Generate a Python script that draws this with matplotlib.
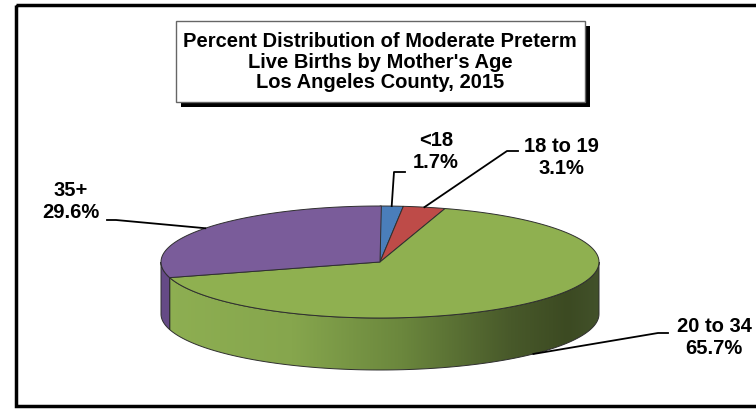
import numpy as np
import matplotlib.pyplot as plt
from matplotlib.patches import Polygon, Rectangle
from matplotlib.colors import LinearSegmentedColormap

# data
age_groups = ['<18', '18 to 19', '20 to 34', '35+']
percents = [1.7, 3.1, 65.7, 29.6]
title_lines = ['Percent Distribution of Moderate Preterm',
               "Live Births by Mother's Age",
               'Los Angeles County, 2015']

# styling
top_colors = ['#4A7EBB', '#BE4B48', '#8FB050', '#7A5C9A']
side_colors = ['#3D6699', '#9A3C3A', '#6E8A3E', '#654A86']
label_xy = [(436, 152), (561, 157), (714, 338), (71, 201)]
# leader lines (label end) for each slice
leader_ends = [[(405, 172), (394, 172)], [(518, 151), (507, 151)],
               [(668, 333), (658, 333)], [(107, 220), (116, 220)]]

plt.rcParams['font.family'] = ['Liberation Sans', 'DejaVu Sans']

fig = plt.figure(figsize=(7.56, 4.09), dpi=100)
ax = fig.add_axes([0, 0, 1, 1])
ax.set_xlim(0, 756)
ax.set_ylim(409, 0)
ax.axis('off')

# pie geometry in pixels
cx, cy, a, b, depth = 380, 262, 219, 56, 52

def ell(t, dz=0):
    t = np.radians(t)
    return np.column_stack([cx + a*np.cos(t), cy - b*np.sin(t) + dz])

cum = np.concatenate([[0], np.cumsum(percents)])
starts = 90 - 3.6*cum[:-1]
ends = 90 - 3.6*cum[1:]

# gradient for the big front side
grad_cmap = LinearSegmentedColormap.from_list(
    'side', [(0, '#8EAF52'), (0.3, '#86A64D'), (0.55, '#6B873D'),
             (0.8, '#48592A'), (0.93, '#3C4A22'), (1, '#42512A')])

# side faces (only the front half, sin<0)
for i in range(len(percents)):
    lo, hi = ends[i], starts[i]
    for k in (-1, 0, 1):
        s0, s1 = max(lo, -180 + 360*k), min(hi, 0 + 360*k)
        if s1 <= s0:
            continue
        tt = np.linspace(s0, s1, 120)
        pts = np.vstack([ell(tt), ell(tt[::-1], depth)])
        if age_groups[i] == '20 to 34':
            poly = Polygon(pts, closed=True, facecolor='none',
                           edgecolor='#2f2f2f', lw=0.7, zorder=3)
            ax.add_patch(poly)
            grad = np.linspace(0, 1, 256).reshape(1, -1)
            im = ax.imshow(grad, cmap=grad_cmap, aspect='auto',
                           extent=(cx - a, cx + a, cy + b + depth, cy - 5),
                           zorder=2)
            im.set_clip_path(poly)
        else:
            ax.add_patch(Polygon(pts, closed=True, facecolor=side_colors[i],
                                 edgecolor='#2f2f2f', lw=0.7, zorder=2))

# top face wedges
for i in range(len(percents)):
    tt = np.linspace(starts[i], ends[i], 200)
    pts = np.vstack([[cx, cy], ell(tt)])
    ax.add_patch(Polygon(pts, closed=True, facecolor=top_colors[i],
                         edgecolor='#2f2f2f', lw=0.7, zorder=4))

# labels with leader lines
for i in range(len(percents)):
    mid = (starts[i] + ends[i]) / 2
    dz = depth if np.sin(np.radians(mid)) < 0 else 0
    p = ell(np.array([mid]), dz)[0]
    (x1, y1), (x2, y2) = leader_ends[i]
    ax.plot([p[0], x2, x1], [p[1], y2, y1], color='black', lw=1.3, zorder=5)
    ax.text(label_xy[i][0], label_xy[i][1],
            f'{age_groups[i]}\n{percents[i]}%', ha='center', va='center',
            fontsize=14.5, fontweight='bold', linespacing=1.2, zorder=6)

# title box with shadow
ax.add_patch(Rectangle((181, 26), 409, 81, facecolor='black', edgecolor='none', zorder=6))
ax.add_patch(Rectangle((176, 21), 409, 81, facecolor='white', edgecolor='#666666',
                       lw=1, zorder=7))
ax.text(380, 62, '\n'.join(title_lines), ha='center', va='center',
        fontsize=14.5, fontweight='bold', linespacing=1.12, zorder=8)

# outer frame (right side runs off the image)
ax.add_patch(Rectangle((16, 5), 800, 401, facecolor='none', edgecolor='black',
                       lw=2.5, zorder=1))

fig.savefig('out.png', dpi=100)
